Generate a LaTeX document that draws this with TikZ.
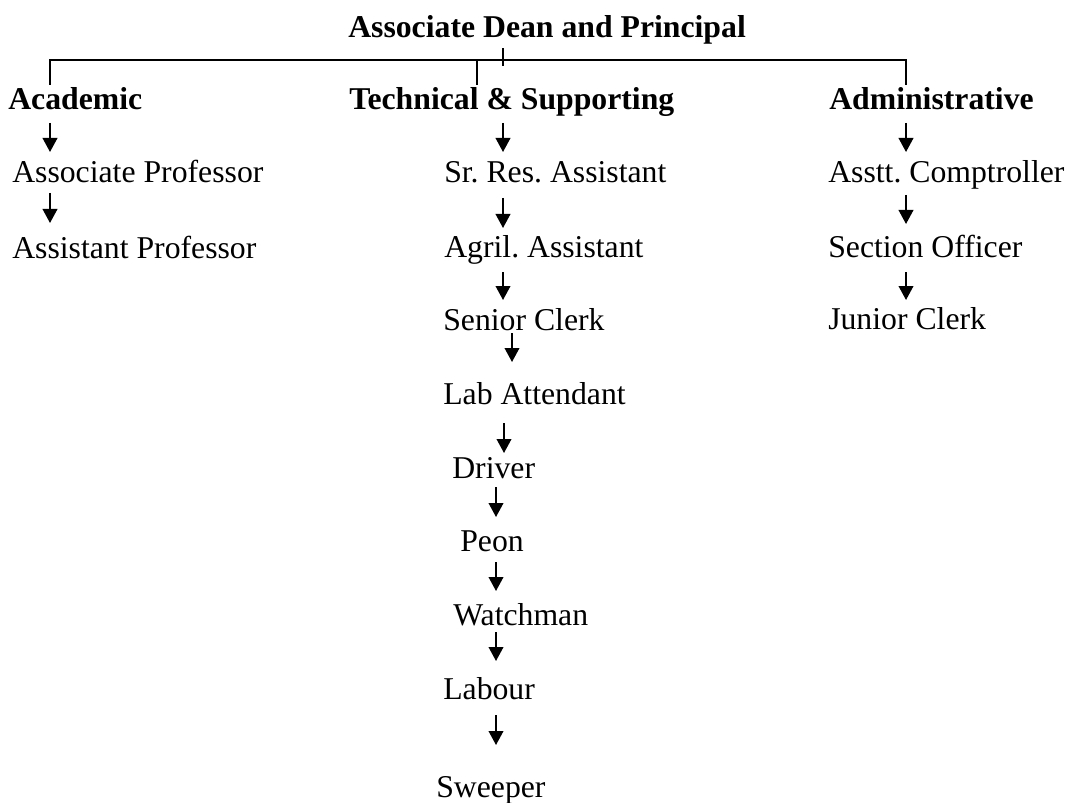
\documentclass[tikz,border=0pt]{standalone}
\usepackage{fontspec}
\setmainfont{Liberation Serif}
\usetikzlibrary{arrows.meta}
\frenchspacing

\begin{document}
\begin{tikzpicture}[x=0.75pt,y=-0.75pt,
        lbl/.style={anchor=base west, inner sep=0pt, font=\fontsize{23.8pt}{28pt}\selectfont},
        head/.style={lbl, font=\fontsize{23.8pt}{28pt}\selectfont\bfseries, text height=18.75pt},
        bar/.style={line width=1.3pt},
        drop/.style 2 args={line width=1.3pt, -{Triangle[length=10.5pt,width=11pt]},
            shorten <=#1*0.75pt, shorten >=#2*0.75pt}]
        \useasboundingbox (0,0) rectangle (1069,802);

        \node[head, text depth=7.5pt] (dean) at (348,38) {Associate Dean and Principal};

        \node[head] (acad) at (8,110) {Academic};
        \node[head] (tech) at (349,110) {Technical \& Supporting};
        \node[head] (admin) at (829,110) {Administrative};

        \node[lbl] (assocprof) at (12,183) {Associate Professor};
        \node[lbl] (asstprof) at (12,258) {Assistant Professor};

        \node[lbl] (srres) at (444,183) {Sr. Res. Assistant};
        \node[lbl] (agril) at (444,257) {Agril. Assistant};
        \node[lbl] (senclerk) at (443,330) {Senior Clerk};
        \node[lbl] (lab) at (443,404) {Lab Attendant};
        \node[lbl] (driver) at (452,478) {Driver};
        \node[lbl] (peon) at (460,551) {Peon};
        \node[lbl] (watch) at (453,625) {Watchman};
        \node[lbl] (labour) at (443,699) {Labour};
        \node[lbl] (sweeper) at (436,797) {Sweeper};

        \node[lbl] (comp) at (828,183) {Asstt. Comptroller};
        \node[lbl] (section) at (828,257) {Section Officer};
        \node[lbl] (junior) at (828,329) {Junior Clerk};

        \coordinate (hub) at (503,60);
        \coordinate (c1) at (50,0);
        \coordinate (c2) at (477,0);
        \coordinate (c3) at (906,0);
        \coordinate (mA) at (503,0);
        \coordinate (mB) at (512,0);
        \coordinate (mC) at (504,0);
        \coordinate (mD) at (496,0);

        \draw[bar] (acad.north -| c1) |- (hub) -| (admin.north -| c3);
        \draw[bar] (dean.south -| hub) -- ([yshift=-4.5pt]hub);
        \draw[bar] (hub -| c2) -- (tech.north -| c2);

        \draw[drop={13}{31}] (acad.base -| c1) -- (assocprof.base -| c1);
        \draw[drop={10}{35}] (assocprof.base -| c1) -- (asstprof.base -| c1);

        \draw[drop={13}{31}] (tech.base -| mA) -- (srres.base -| mA);
        \draw[drop={15}{29}] (srres.base -| mA) -- (agril.base -| mA);
        \draw[drop={15}{30}] (agril.base -| mA) -- (senclerk.base -| mA);
        \draw[drop={3}{42}] (senclerk.base -| mB) -- (lab.base -| mB);
        \draw[drop={19}{25}] (lab.base -| mC) -- (driver.base -| mC);
        \draw[drop={9}{34}] (driver.base -| mD) -- (peon.base -| mD);
        \draw[drop={11}{34}] (peon.base -| mD) -- (watch.base -| mD);
        \draw[drop={7}{38}] (watch.base -| mD) -- (labour.base -| mD);
        \draw[drop={16}{52}] (labour.base -| mD) -- (sweeper.base -| mD);

        \draw[drop={13}{31}] (admin.base -| c3) -- (comp.base -| c3);
        \draw[drop={12}{33}] (comp.base -| c3) -- (section.base -| c3);
        \draw[drop={15}{29}] (section.base -| c3) -- (junior.base -| c3);

    \end{tikzpicture}
\end{document}
